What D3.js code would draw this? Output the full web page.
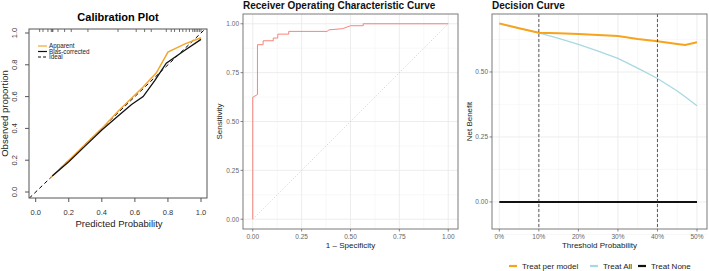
<!DOCTYPE html>
<html>
<head>
<meta charset="utf-8">
<script src="https://cdn.jsdelivr.net/npm/d3@7"></script>
<style>
  body { margin: 0; background: #fff; }
  text { font-family: "Liberation Sans", Arial, Helvetica, sans-serif; }
</style>
</head>
<body>
<div id="canvas"></div>
<script>
// ---- data ----
// calibration plot
const calApparent = [[0.09, 0.09], [0.2, 0.2], [0.3, 0.3], [0.4, 0.4], [0.5, 0.51], [0.6, 0.61], [0.65, 0.66], [0.73, 0.75], [0.8, 0.88], [0.9, 0.93], [1.0, 0.97]];
const calBias = [[0.1, 0.1], [0.2, 0.19], [0.3, 0.29], [0.4, 0.39], [0.5, 0.48], [0.58, 0.55], [0.65, 0.6], [0.72, 0.7], [0.79, 0.81], [0.9, 0.89], [1.0, 0.96]];
const calRug = [0.024, 0.044, 0.074, 0.094, 0.1, 0.104, 0.135, 0.175, 0.215, 0.316, 0.498, 0.608, 0.659, 0.699, 0.79, 0.82, 0.84, 0.87, 0.89, 0.91, 0.93, 0.95, 0.96, 0.97, 0.98, 0.99, 1.0];
const calTicks = [0, 0.2, 0.4, 0.6, 0.8, 1.0];
const calLegend = ["Apparent", "Bias-corrected", "Ideal"];

// ROC curve (fpr, tpr)
const rocFpr = [0, 0, 0.024, 0.024, 0.053, 0.053, 0.105, 0.105, 0.128, 0.128, 0.184, 0.184, 0.38, 0.39, 0.46, 0.50, 0.565, 0.565, 1.0];
const rocTpr = [0, 0.624, 0.638, 0.893, 0.893, 0.913, 0.913, 0.927, 0.927, 0.947, 0.947, 0.961, 0.961, 0.969, 0.975, 0.99, 0.99, 1.0, 1.0];
const rocTicks = [0, 0.25, 0.5, 0.75, 1.0];

// decision curve
const dcThreshold = [0, 0.05, 0.10, 0.15, 0.20, 0.25, 0.30, 0.35, 0.40, 0.45, 0.47, 0.50];
const dcModel = [0.687, 0.668, 0.651, 0.649, 0.646, 0.642, 0.638, 0.627, 0.618, 0.608, 0.604, 0.614];
const dcAll = [0.685, 0.668, 0.650, 0.629, 0.606, 0.580, 0.552, 0.515, 0.475, 0.427, 0.405, 0.370];
const dcNone = [0, 0, 0, 0, 0, 0, 0, 0, 0, 0, 0, 0];
const dcCutoffs = [0.10, 0.40];
const dcXTicks = [0, 0.1, 0.2, 0.3, 0.4, 0.5];
const dcYTicks = [0, 0.25, 0.5];
const dcSeries = ["Treat per model", "Treat All", "Treat None"];

const svg = d3.select("#canvas").append("svg")
    .attr("width", 709)
    .attr("height", 271);

svg.append("rect").attr("width", 709).attr("height", 271).attr("fill", "#fff");

// =============== Panel 1: calibration (base R look) ===============
const cx = d3.scaleLinear().domain([0, 1]).range([35.7, 201]);
const cy = d3.scaleLinear().domain([0, 1]).range([192, 33]);
const calBox = { x0: 29, x1: 207, y0: 29, y1: 198 };

svg.append("text")
    .attr("x", (calBox.x0 + calBox.x1) / 2)
    .attr("y", 21)
    .attr("text-anchor", "middle")
    .style("font-size", "11px")
    .style("font-weight", "bold")
    .text("Calibration Plot");

svg.append("clipPath").attr("id", "calClip")
    .append("rect")
    .attr("x", calBox.x0).attr("y", calBox.y0)
    .attr("width", calBox.x1 - calBox.x0).attr("height", calBox.y1 - calBox.y0);

const cal = svg.append("g");
const calPlot = cal.append("g").attr("clip-path", "url(#calClip)");

// ideal line
calPlot.append("line")
    .attr("x1", cx(-0.1)).attr("y1", cy(-0.1))
    .attr("x2", cx(1.1)).attr("y2", cy(1.1))
    .attr("stroke", "#000")
    .attr("stroke-width", 1)
    .attr("stroke-dasharray", "4,3");

const calLine = d3.line().x(d => cx(d[0])).y(d => cy(d[1]));

calPlot.append("path")
    .attr("d", calLine(calApparent))
    .attr("fill", "none")
    .attr("stroke", "#F4A52C")
    .attr("stroke-width", 1.5);

calPlot.append("path")
    .attr("d", calLine(calBias))
    .attr("fill", "none")
    .attr("stroke", "#111")
    .attr("stroke-width", 1.3);

// rug of predictions at top
calPlot.selectAll(".rug")
    .data(calRug)
    .enter()
    .append("line")
    .attr("x1", d => cx(d)).attr("x2", d => cx(d))
    .attr("y1", calBox.y0).attr("y2", calBox.y0 + 3)
    .attr("stroke", "#333")
    .attr("stroke-width", 0.7);

cal.append("rect")
    .attr("x", calBox.x0).attr("y", calBox.y0)
    .attr("width", calBox.x1 - calBox.x0).attr("height", calBox.y1 - calBox.y0)
    .attr("fill", "none")
    .attr("stroke", "#555")
    .attr("stroke-width", 1);

// axes
const calXAxis = cal.append("g").attr("transform", `translate(0,${calBox.y1})`);
calXAxis.selectAll("line")
    .data(calTicks).enter().append("line")
    .attr("x1", d => cx(d)).attr("x2", d => cx(d))
    .attr("y1", 0).attr("y2", 4)
    .attr("stroke", "#555");
calXAxis.selectAll("text")
    .data(calTicks).enter().append("text")
    .attr("x", d => cx(d)).attr("y", 16.5)
    .attr("text-anchor", "middle")
    .attr("fill", "#333")
    .style("font-size", "7.5px")
    .text(d3.format(".1f"));

const calYAxis = cal.append("g").attr("transform", `translate(${calBox.x0},0)`);
calYAxis.selectAll("line")
    .data(calTicks).enter().append("line")
    .attr("y1", d => cy(d)).attr("y2", d => cy(d))
    .attr("x1", 0).attr("x2", -4)
    .attr("stroke", "#555");
calYAxis.selectAll("text")
    .data(calTicks).enter().append("text")
    .attr("transform", d => `translate(-12,${cy(d)}) rotate(-90)`)
    .attr("text-anchor", "middle")
    .attr("fill", "#333")
    .style("font-size", "7.5px")
    .text(d3.format(".1f"));

cal.append("text")
    .attr("x", (calBox.x0 + calBox.x1) / 2 + 1)
    .attr("y", 226.5)
    .attr("text-anchor", "middle")
    .attr("fill", "#222")
    .style("font-size", "9.5px")
    .text("Predicted Probability");

cal.append("text")
    .attr("transform", `translate(8,${(calBox.y0 + calBox.y1) / 2}) rotate(-90)`)
    .attr("text-anchor", "middle")
    .attr("fill", "#222")
    .style("font-size", "9.5px")
    .text("Observed proportion");

// legend
const calLegendColors = ["#F4A52C", "#111", "#111"];
const calLegendG = cal.append("g");
calLegend.forEach((name, i) => {
    const y = 46 + i * 5.5;
    calLegendG.append("line")
        .attr("x1", 38).attr("x2", 47)
        .attr("y1", y).attr("y2", y)
        .attr("stroke", calLegendColors[i])
        .attr("stroke-width", 1.2)
        .attr("stroke-dasharray", i === 2 ? "3,2" : null);
    calLegendG.append("text")
        .attr("x", 49).attr("y", y + 2)
        .attr("fill", "#222")
        .style("font-size", "6.3px")
        .text(name);
});

// =============== ggplot-like helper ===============
function ggPanel(opts) {
    const g = svg.append("g");
    const { x, y, box } = opts;

    // minor grid
    g.selectAll(".minx").data(opts.xMinor).enter().append("line")
        .attr("x1", d => x(d)).attr("x2", d => x(d))
        .attr("y1", box.y0).attr("y2", box.y1)
        .attr("stroke", "#F4F4F4").attr("stroke-width", 0.6);
    g.selectAll(".miny").data(opts.yMinor).enter().append("line")
        .attr("y1", d => y(d)).attr("y2", d => y(d))
        .attr("x1", box.x0).attr("x2", box.x1)
        .attr("stroke", "#F4F4F4").attr("stroke-width", 0.6);
    // major grid
    g.selectAll(".majx").data(opts.xTicks).enter().append("line")
        .attr("x1", d => x(d)).attr("x2", d => x(d))
        .attr("y1", box.y0).attr("y2", box.y1)
        .attr("stroke", "#EBEBEB").attr("stroke-width", 0.9);
    g.selectAll(".majy").data(opts.yTicks).enter().append("line")
        .attr("y1", d => y(d)).attr("y2", d => y(d))
        .attr("x1", box.x0).attr("x2", box.x1)
        .attr("stroke", "#EBEBEB").attr("stroke-width", 0.9);

    const plot = g.append("g");

    g.append("rect")
        .attr("x", box.x0).attr("y", box.y0)
        .attr("width", box.x1 - box.x0).attr("height", box.y1 - box.y0)
        .attr("fill", "none")
        .attr("stroke", "#7a7a7a")
        .attr("stroke-width", 1);

    // ticks & labels
    g.selectAll(".tx").data(opts.xTicks).enter().append("line")
        .attr("x1", d => x(d)).attr("x2", d => x(d))
        .attr("y1", box.y1).attr("y2", box.y1 + 2.5)
        .attr("stroke", "#555").attr("stroke-width", 0.7);
    g.selectAll(".tlx").data(opts.xTicks).enter().append("text")
        .attr("x", d => x(d)).attr("y", box.y1 + 10)
        .attr("text-anchor", "middle")
        .attr("fill", "#666")
        .style("font-size", "6.5px")
        .text(opts.xFormat);
    g.selectAll(".ty").data(opts.yTicks).enter().append("line")
        .attr("y1", d => y(d)).attr("y2", d => y(d))
        .attr("x1", box.x0).attr("x2", box.x0 - 2.5)
        .attr("stroke", "#555").attr("stroke-width", 0.7);
    g.selectAll(".tly").data(opts.yTicks).enter().append("text")
        .attr("x", box.x0 - 4).attr("y", d => y(d) + 2.3)
        .attr("text-anchor", "end")
        .attr("fill", "#666")
        .style("font-size", "6.5px")
        .text(opts.yFormat);

    g.append("text")
        .attr("x", box.x0).attr("y", 9)
        .style("font-size", "10px")
        .style("font-weight", "bold")
        .attr("fill", "#111")
        .text(opts.title);
    g.append("text")
        .attr("x", (box.x0 + box.x1) / 2).attr("y", box.y1 + 19)
        .attr("text-anchor", "middle")
        .attr("fill", "#222")
        .style("font-size", "8px")
        .text(opts.xTitle);
    g.append("text")
        .attr("transform", `translate(${opts.yTitleX},${(box.y0 + box.y1) / 2}) rotate(-90)`)
        .attr("text-anchor", "middle")
        .attr("fill", "#222")
        .style("font-size", "8px")
        .text(opts.yTitle);

    return plot;
}

// =============== Panel 2: ROC ===============
const rx = d3.scaleLinear().domain([-0.05, 1.05]).range([243, 458]);
const ry = d3.scaleLinear().domain([-0.05, 1.05]).range([229, 14]);
const fmt2 = d3.format(".2f");

const rocPlot = ggPanel({
    x: rx, y: ry,
    box: { x0: 243, x1: 458, y0: 14, y1: 229 },
    xTicks: rocTicks, yTicks: rocTicks,
    xMinor: [0.125, 0.375, 0.625, 0.875],
    yMinor: [0.125, 0.375, 0.625, 0.875],
    xFormat: fmt2, yFormat: fmt2,
    title: "Receiver Operating Characteristic Curve",
    xTitle: "1 \u2013 Specificity",
    yTitle: "Sensitivity",
    yTitleX: 222
});

rocPlot.append("line")
    .attr("x1", rx(0)).attr("y1", ry(0))
    .attr("x2", rx(1)).attr("y2", ry(1))
    .attr("stroke", "#bbb")
    .attr("stroke-width", 0.7)
    .attr("stroke-dasharray", "1,2");

rocPlot.append("path")
    .attr("d", d3.line().x((d, i) => rx(rocFpr[i])).y(d => ry(d))(rocTpr))
    .attr("fill", "none")
    .attr("stroke", "#F8766D")
    .attr("stroke-width", 0.9);

// =============== Panel 3: decision curve ===============
const dx = d3.scaleLinear().domain([-0.0185, 0.5253]).range([492, 707]);
const dy = d3.scaleLinear().domain([-0.104, 0.723]).range([229, 14]);

const dcPlot = ggPanel({
    x: dx, y: dy,
    box: { x0: 492, x1: 707, y0: 14, y1: 229 },
    xTicks: dcXTicks, yTicks: dcYTicks,
    xMinor: [0.05, 0.15, 0.25, 0.35, 0.45],
    yMinor: [-0.125, 0.125, 0.375, 0.625],
    xFormat: d3.format(".0%"), yFormat: fmt2,
    title: "Decision Curve",
    xTitle: "Threshold Probability",
    yTitle: "Net Benefit",
    yTitleX: 472
});

const dcColors = ["#F7A31C", "#A8D8E2", "#111"];
const dcLine = vals => d3.line().x((d, i) => dx(dcThreshold[i])).y(d => dy(d))(vals);

dcPlot.append("path").attr("d", dcLine(dcAll))
    .attr("fill", "none").attr("stroke", dcColors[1]).attr("stroke-width", 1.3);
dcPlot.append("path").attr("d", dcLine(dcModel))
    .attr("fill", "none").attr("stroke", dcColors[0]).attr("stroke-width", 2);
dcPlot.append("path").attr("d", dcLine(dcNone))
    .attr("fill", "none").attr("stroke", dcColors[2]).attr("stroke-width", 2);

dcPlot.selectAll(".cut").data(dcCutoffs).enter().append("line")
    .attr("x1", d => dx(d)).attr("x2", d => dx(d))
    .attr("y1", 14).attr("y2", 229)
    .attr("stroke", "#333")
    .attr("stroke-width", 0.8)
    .attr("stroke-dasharray", "3,2");

// legend below
const legendX = [513, 594, 642];
const dcLegend = svg.append("g").attr("transform", "translate(0,266)");
dcSeries.forEach((name, i) => {
    dcLegend.append("line")
        .attr("x1", legendX[i] - 4).attr("x2", legendX[i] + 4)
        .attr("y1", 0).attr("y2", 0)
        .attr("stroke", dcColors[i])
        .attr("stroke-width", 2.2);
    dcLegend.append("text")
        .attr("x", legendX[i] + 9).attr("y", 3)
        .attr("fill", "#222")
        .style("font-size", "8px")
        .text(name);
});
</script>
</body>
</html>
